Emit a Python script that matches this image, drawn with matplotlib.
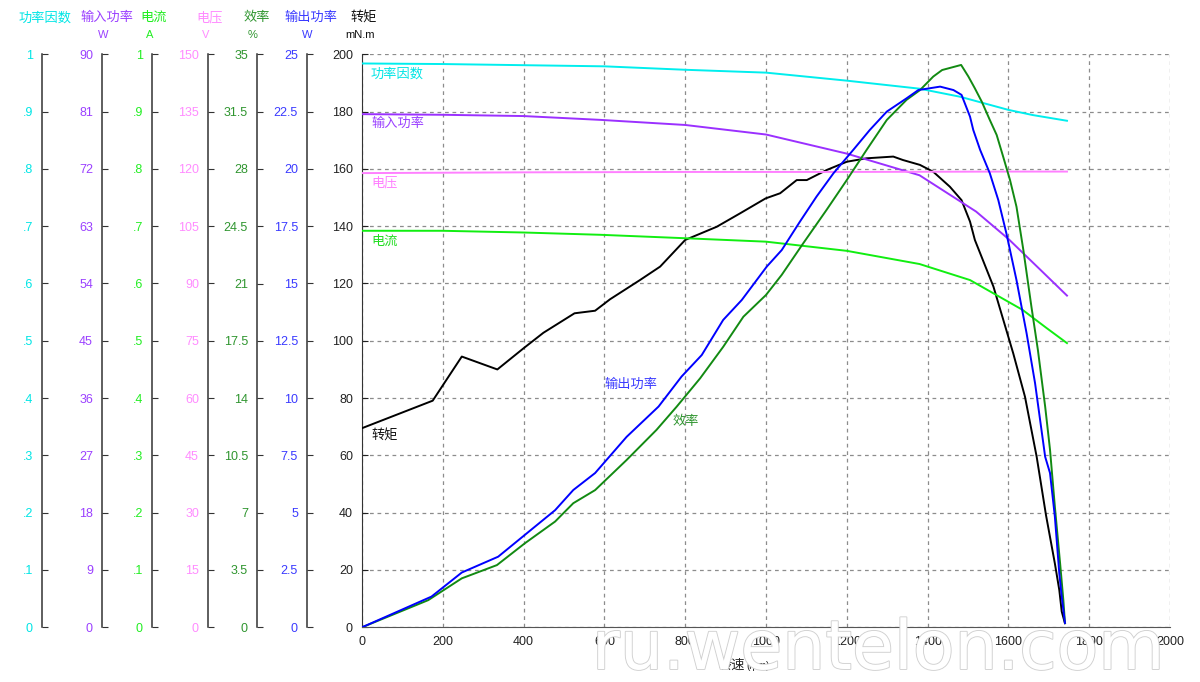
import numpy as np
import matplotlib.pyplot as plt
import matplotlib.patheffects as pe
from matplotlib.ticker import FixedLocator, FuncFormatter

plt.rcParams['font.family'] = ['Liberation Sans', 'Noto Sans CJK SC', 'DejaVu Sans']

# ---- data ----
pf_rpm = [0, 200, 400, 600, 800, 1000, 1200, 1380, 1480, 1600, 1660, 1745]
pf_val = [0.984, 0.983, 0.981, 0.979, 0.973, 0.968, 0.954, 0.94, 0.926, 0.903, 0.894, 0.884]

pin_rpm = [0, 200, 400, 590, 800, 1000, 1200, 1380, 1520, 1600, 1680, 1745]
pin_val = [80.6, 80.5, 80.3, 79.7, 78.9, 77.4, 74.4, 71.0, 65.3, 61.0, 56.1, 52.1]

volt_rpm = [0, 400, 800, 1200, 1600, 1745]
volt_val = [118.9, 119.1, 119.2, 119.2, 119.3, 119.3]

cur_rpm = [0, 200, 400, 590, 800, 1000, 1200, 1380, 1505, 1570, 1635, 1695, 1745]
cur_val = [0.692, 0.692, 0.689, 0.685, 0.679, 0.673, 0.657, 0.634, 0.606, 0.58, 0.554, 0.522, 0.496]

eff_rpm = [0, 164, 247, 334, 403, 478, 523, 577, 655, 729, 779, 837, 894, 944, 1000,
           1039, 1092, 1150, 1200, 1249, 1299, 1348, 1381, 1414, 1436, 1483, 1501, 1517,
           1534, 1554, 1571, 1587, 1604, 1620, 1637, 1657, 1673, 1691, 1703, 1715, 1728,
           1736, 1740]
eff_val = [0, 1.66, 2.99, 3.80, 5.13, 6.46, 7.58, 8.38, 10.22, 12.06, 13.48, 15.21, 17.13,
           18.97, 20.3, 21.53, 23.45, 25.5, 27.32, 29.16, 30.99, 32.22, 32.81, 33.64, 34.04,
           34.35, 33.64, 32.92, 32.11, 30.99, 30.07, 28.75, 27.32, 25.69, 23.05, 19.58,
           16.94, 13.48, 10.85, 7.37, 3.9, 1.66, 0.26]

pout_rpm = [0, 172, 247, 337, 403, 478, 523, 577, 655, 734, 791, 841, 894, 940, 1002,
            1039, 1084, 1125, 1167, 1216, 1257, 1299, 1348, 1377, 1431, 1464, 1484, 1505,
            1513, 1530, 1554, 1575, 1595, 1620, 1645, 1666, 1691, 1703, 1715, 1726, 1732,
            1740]
pout_val = [0, 1.34, 2.39, 3.08, 4.03, 5.11, 5.99, 6.73, 8.31, 9.63, 10.94, 11.88, 13.41,
            14.28, 15.74, 16.46, 17.7, 18.79, 19.81, 20.83, 21.7, 22.5, 23.08, 23.44, 23.59,
            23.44, 23.23, 22.28, 21.7, 20.83, 19.81, 18.64, 17.19, 15.15, 12.83, 10.65,
            7.44, 6.73, 4.83, 2.35, 1.34, 0.19]

torque_rpm = [0, 175, 247, 335, 400, 449, 526, 577, 614, 688, 738, 800, 878, 936, 999,
              1035, 1076, 1101, 1150, 1200, 1249, 1315, 1339, 1381, 1414, 1455, 1484, 1505,
              1517, 1563, 1612, 1641, 1670, 1693, 1715, 1726, 1732, 1740]
torque_val = [69.5, 79.1, 94.5, 90.0, 97.4, 102.8, 109.6, 110.5, 114.5, 121.2, 125.9,
              135.2, 139.8, 144.5, 149.7, 151.5, 156.1, 156.1, 159.6, 162.5, 163.7, 164.3,
              163.1, 161.4, 159.0, 153.8, 149.1, 141.6, 135.2, 118.9, 95.6, 80.5, 59.5,
              39.2, 22.3, 13.0, 5.5, 1.4]

x_ticks = list(range(0, 2001, 200))

# name, unit, axis top, spine x (px), line colour, label colour, data
scales = [
    ("功率因数", "", 1, 42, "#00eeee", "#00e5e5", pf_rpm, pf_val),
    ("输入功率", "W", 90, 102, "#9b30ff", "#9b40ff", pin_rpm, pin_val),
    ("电流", "A", 1, 152, "#11ee11", "#22ee22", cur_rpm, cur_val),
    ("电压", "V", 150, 208, "#ff80ff", "#ff8cff", volt_rpm, volt_val),
    ("效率", "%", 35, 257, "#128a12", "#2f952f", eff_rpm, eff_val),
    ("输出功率", "W", 25, 307, "#0000ff", "#3a3aff", pout_rpm, pout_val),
]

W, H = 1200, 682
fig = plt.figure(figsize=(W / 100, H / 100), dpi=100)
x0, x1, ytop, ybot = 362, 1170, 54.3, 627.3
ax = fig.add_axes([x0 / W, 1 - ybot / H, (x1 - x0) / W, (ybot - ytop) / H])


def fmt(v, pos):
    s = "%g" % v
    if s.startswith("0."):
        s = s[1:]
    return s


# main axis: torque
ax.set_xlim(0, 2000)
ax.set_ylim(0, 200)
ax.set_xticks(x_ticks)
ax.yaxis.set_major_locator(FixedLocator(np.linspace(0, 200, 11)))
ax.grid(True, color="#8c8c8c", ls=(0, (3, 3)), lw=0.9)
for s in ["top", "right"]:
    ax.spines[s].set_visible(False)
ax.spines["left"].set_color("#333333")
ax.spines["bottom"].set_color("#555555")
ax.tick_params(axis="y", direction="in", length=4, pad=6.5, labelsize=9, colors="#222222")
ax.tick_params(axis="x", direction="in", length=0, pad=6, labelsize=9, colors="#222222")
ax.plot(torque_rpm, torque_val, color="black", lw=1.4, zorder=5)

# one twin axis per other quantity
for name, unit, top, sx, lc, tc, xs, ys in scales:
    t = ax.twinx()
    t.set_ylim(0, top)
    t.yaxis.set_ticks_position("left")
    for s in ["top", "right", "bottom"]:
        t.spines[s].set_visible(False)
    t.spines["left"].set_position(("axes", (sx - x0) / (x1 - x0)))
    t.spines["left"].set_color("#333333")
    t.spines["left"].set_linewidth(1.1)
    t.yaxis.set_major_locator(FixedLocator(np.linspace(0, top, 11)))
    t.yaxis.set_major_formatter(FuncFormatter(fmt))
    t.tick_params(axis="y", direction="in", length=4, pad=6.5, labelsize=9,
                  color="#333333", labelcolor=tc)
    t.plot(xs, ys, color=lc, lw=1.4)

# header row above the scales
hdr = [("功率因数", "", 45, "#00e5e5"), ("输入功率", "W", 107, "#9b40ff"),
       ("电流", "A", 154, "#22ee22"), ("电压", "V", 210, "#ff8cff"),
       ("效率", "%", 257, "#2f952f"), ("输出功率", "W", 311, "#3a3aff"),
       ("转矩", "mN.m", 364, "#111111")]
for name, unit, cx, c in hdr:
    fig.text(cx / W, 1 - 18 / H, name, color=c, fontsize=9.5, ha="center", va="center")
    if unit:
        fig.text((cx - 4) / W, 1 - 35 / H, unit, color=c, fontsize=8, ha="center", va="center")

# labels inside the plot
inner = [("功率因数", 371, 74, "#00e5e5"), ("输入功率", 371, 124, "#9b40ff"),
         ("电压", 371, 183, "#ff80ff"), ("电流", 371, 242, "#22dd22"),
         ("转矩", 371, 436, "#111111"), ("输出功率", 604, 385, "#3a3aff"),
         ("效率", 673, 422, "#2f952f")]
for txt, px, py, c in inner:
    fig.text(px / W, 1 - py / H, txt, color=c, fontsize=9.5, ha="left", va="center")

# x axis title
fig.text(745 / W, 1 - 665 / H, "转速", fontsize=9.5, ha="right", va="center", color="#222222")
fig.text(746 / W, 1 - 666 / H, "(rpm)", fontsize=7, ha="left", va="center", color="#222222")

# watermark
fig.text(878 / W, 1 - 669 / H, "ru.wentelon.com", fontsize=49, color="white",
         ha="center", va="baseline", family="DejaVu Sans",
         zorder=20, path_effects=[pe.withStroke(linewidth=1.3, foreground="#d0d0d0")])

fig.savefig("out.png", dpi=100)
